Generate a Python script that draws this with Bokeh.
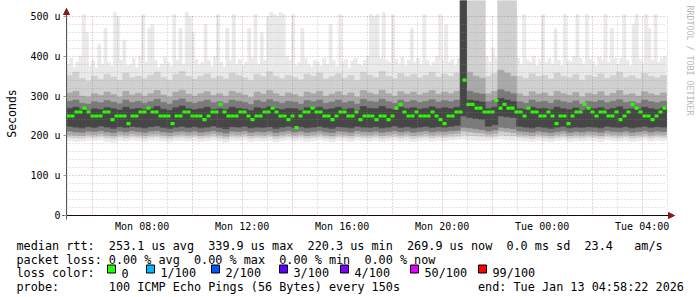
import math
from bokeh.plotting import figure
from bokeh.models import Range1d, FixedTicker, Label, Arrow, NormalHead, ColumnDataSource
from bokeh.embed import file_html
from bokeh.resources import INLINE
from bokeh.core.properties import value

# ---------------- data ----------------
# time in hours since Mon 00:00; graph ends Tue 04:58:22, spans 24 h
START_H = 4 + 58 / 60 + 22 / 3600
SPAN_H = 24.0

x_tick_hours = [8, 12, 16, 20, 24, 28]
x_tick_labels = ["Mon 08:00", "Mon 12:00", "Mon 16:00", "Mon 20:00", "Tue 00:00", "Tue 04:00"]
y_tick_values = [0, 100, 200, 300, 400, 500]
y_tick_labels = ["0", "100 u", "200 u", "300 u", "400 u", "500 u"]
y_title = "Seconds"

# smoke percentiles (microseconds), one value per 15 minutes
SMOKE_STEP_H = 0.25
rtt_min = [188, 186, 187, 189, 188, 190, 186, 184, 189, 187, 190, 188,
           186, 189, 190, 187, 185, 188, 189, 187, 189, 186, 188, 190,
           187, 184, 189, 188, 190, 186, 188, 187, 189, 185, 188, 190,
           187, 189, 186, 188, 190, 187, 185, 189, 188, 186, 190, 188,
           187, 189, 186, 188, 190, 187, 189, 186, 188, 190, 187, 189,
           188, 190, 191, 192, 190, 189, 188, 189, 191, 192, 190, 189,
           189, 188, 186, 189, 187, 185, 188, 190, 186, 188, 187, 189,
           188, 186, 190, 188, 187, 189, 186, 188, 190, 187, 189, 188]
rtt_p10 = [196, 195, 194, 197, 196, 198, 195, 193, 197, 195, 198, 196,
           194, 197, 198, 195, 193, 196, 197, 195, 197, 194, 196, 198,
           195, 192, 197, 196, 198, 194, 196, 195, 197, 193, 196, 198,
           195, 197, 194, 196, 198, 195, 193, 197, 196, 194, 198, 196,
           195, 197, 194, 196, 198, 195, 197, 194, 196, 198, 195, 197,
           196, 198, 199, 203, 201, 200, 199, 197, 199, 203, 201, 200,
           197, 196, 194, 197, 195, 193, 196, 198, 194, 196, 195, 197,
           196, 194, 198, 196, 195, 197, 194, 196, 198, 195, 197, 196]
rtt_p20 = [203, 202, 201, 204, 203, 205, 202, 200, 204, 202, 205, 203,
           201, 204, 205, 202, 200, 203, 204, 202, 204, 201, 203, 205,
           202, 199, 204, 203, 205, 201, 203, 202, 204, 200, 203, 205,
           202, 204, 201, 203, 205, 202, 200, 204, 203, 201, 205, 203,
           202, 204, 201, 203, 205, 202, 204, 201, 203, 205, 202, 204,
           203, 205, 206, 212, 210, 208, 207, 204, 206, 212, 210, 208,
           204, 203, 201, 204, 202, 200, 203, 205, 201, 203, 202, 204,
           203, 201, 205, 203, 202, 204, 201, 203, 205, 202, 204, 203]
rtt_p30 = [212, 210, 209, 212, 211, 213, 210, 208, 212, 210, 213, 211,
           209, 212, 213, 210, 208, 211, 212, 210, 212, 209, 211, 213,
           210, 207, 212, 211, 213, 209, 211, 210, 212, 208, 211, 213,
           210, 212, 209, 211, 213, 210, 208, 212, 211, 209, 213, 211,
           210, 212, 209, 211, 213, 210, 212, 209, 211, 213, 210, 212,
           211, 213, 214, 222, 220, 218, 216, 212, 215, 222, 220, 218,
           212, 211, 209, 212, 210, 208, 211, 213, 209, 211, 210, 212,
           211, 209, 213, 211, 210, 212, 209, 211, 213, 210, 212, 211]
rtt_p40 = [224, 222, 220, 223, 221, 225, 222, 219, 223, 221, 224, 222,
           220, 223, 225, 221, 219, 222, 224, 221, 223, 220, 222, 225,
           221, 218, 223, 222, 224, 220, 222, 221, 223, 219, 222, 224,
           221, 223, 220, 222, 224, 221, 219, 223, 222, 220, 224, 222,
           221, 223, 220, 222, 225, 221, 223, 220, 222, 224, 221, 223,
           222, 224, 226, 250, 246, 244, 242, 224, 228, 250, 248, 246,
           224, 222, 220, 223, 221, 219, 222, 224, 220, 222, 221, 223,
           222, 220, 224, 222, 221, 223, 220, 222, 224, 221, 223, 222]
rtt_p60 = [269, 272, 266, 264, 268, 266, 271, 268, 265, 272, 267, 269,
           266, 268, 274, 267, 264, 271, 275, 268, 266, 268, 272, 266,
           268, 266, 272, 269, 267, 263, 271, 268, 273, 268, 266, 269,
           268, 264, 271, 268, 272, 266, 268, 272, 266, 269, 264, 274,
           269, 268, 274, 268, 266, 272, 268, 271, 267, 269, 273, 268,
           271, 268, 272, 540, 290, 288, 285, 268, 272, 294, 290, 286,
           268, 266, 272, 268, 269, 266, 272, 268, 266, 270, 264, 269,
           268, 271, 266, 269, 273, 267, 268, 266, 272, 268, 266, 270]
rtt_p70 = [287, 290, 282, 280, 286, 283, 289, 285, 281, 290, 284, 287,
           282, 286, 292, 284, 280, 289, 293, 285, 282, 286, 290, 283,
           286, 282, 290, 287, 284, 279, 289, 285, 291, 286, 282, 287,
           285, 280, 289, 286, 290, 282, 285, 290, 283, 287, 280, 292,
           287, 285, 292, 286, 282, 290, 285, 289, 284, 287, 291, 285,
           289, 286, 290, 540, 312, 308, 305, 286, 290, 316, 311, 306,
           286, 282, 290, 285, 287, 282, 290, 286, 283, 288, 280, 287,
           285, 289, 283, 287, 291, 284, 286, 282, 290, 286, 283, 287]
rtt_p80 = [308, 312, 300, 298, 306, 302, 310, 304, 298, 312, 303, 307,
           300, 306, 314, 303, 298, 310, 315, 305, 300, 306, 311, 302,
           306, 300, 312, 308, 303, 297, 310, 305, 314, 306, 300, 308,
           304, 298, 310, 306, 312, 300, 305, 311, 302, 308, 298, 314,
           308, 304, 315, 306, 300, 311, 305, 310, 303, 308, 314, 305,
           310, 306, 312, 540, 360, 350, 345, 306, 312, 365, 358, 350,
           306, 300, 311, 305, 308, 300, 312, 306, 302, 309, 298, 307,
           304, 311, 301, 307, 314, 303, 306, 300, 311, 306, 302, 308]
rtt_p90 = [352, 360, 345, 338, 350, 342, 355, 348, 340, 358, 346, 350,
           344, 352, 360, 347, 340, 355, 362, 349, 343, 350, 356, 345,
           350, 343, 358, 352, 346, 340, 355, 349, 361, 350, 344, 352,
           347, 341, 355, 350, 358, 343, 349, 356, 345, 352, 340, 360,
           353, 347, 362, 350, 344, 357, 349, 355, 346, 352, 360, 348,
           355, 350, 358, 540, 540, 540, 540, 350, 356, 540, 540, 540,
           350, 344, 356, 349, 352, 343, 358, 350, 346, 354, 340, 352,
           348, 356, 345, 352, 360, 347, 351, 344, 357, 350, 346, 352]

# highest ping per 7.5 minutes
MAX_STEP_H = 0.125
rtt_max = [380, 395, 372, 385, 400, 505, 460, 375, 390, 370, 430, 380, 470, 385, 375, 510,
           500, 390, 440, 376, 380, 395, 372, 400, 505, 385, 470, 480, 390, 372, 380, 398,
           385, 375, 505, 390, 470, 380, 510, 500, 460, 392, 378, 385, 480, 390, 375, 400,
           505, 385, 372, 470, 390, 505, 380, 392, 376, 385, 470, 395, 505, 380, 460, 390,
           500, 510, 505, 500, 510, 505, 400, 390, 505, 378, 385, 470, 395, 380, 372, 390,
           385, 376, 395, 380, 480, 390, 375, 505, 385, 392, 370, 388, 395, 380, 376, 390,
           400, 505, 500, 505, 395, 510, 390, 385, 505, 392, 380, 398, 376, 390, 470, 385,
           395, 380, 505, 390, 376, 385, 400, 505, 390, 480, 385, 392, 378, 395, 540, 540,
           540, 540, 540, 540, 540, 540, 400, 385, 420, 395, 540, 540, 540, 540, 540, 540,
           395, 380, 505, 390, 385, 400, 376, 392, 505, 385, 395, 380, 470, 390, 376, 505,
           390, 385, 400, 505, 395, 380, 505, 392, 385, 376, 398, 390, 505, 385, 470, 395,
           380, 395, 505, 390, 376, 480, 505, 392, 385, 505, 470, 390, 505, 385, 395, 400]

# median rtt per 9.6 minutes (0 % loss throughout)
MEDIAN_STEP_H = 0.16
median_rtt = [250, 250, 260, 260, 270, 260, 250, 250, 250, 260,
              260, 241, 250, 250, 250, 231, 250, 250, 260, 260,
              270, 260, 260, 250, 250, 250, 231, 250, 250, 260,
              260, 250, 250, 250, 241, 250, 260, 260, 279, 260,
              250, 250, 250, 260, 260, 250, 241, 250, 250, 260,
              260, 270, 260, 250, 250, 241, 250, 221, 250, 260,
              260, 270, 260, 260, 250, 250, 241, 250, 260, 260,
              250, 250, 260, 241, 250, 250, 250, 241, 250, 250,
              241, 250, 270, 279, 260, 250, 250, 260, 250, 250,
              250, 260, 250, 241, 231, 250, 250, 260, 260, 340,
              279, 279, 270, 270, 260, 260, 260, 289, 270, 279,
              270, 270, 260, 260, 250, 270, 260, 260, 250, 250,
              260, 250, 231, 250, 250, 231, 250, 260, 260, 279,
              270, 260, 250, 260, 260, 250, 250, 260, 241, 250,
              260, 279, 270, 260, 250, 250, 241, 250, 260, 270]

loss_labels = ["0", "1/100", "2/100", "3/100", "4/100", "50/100", "99/100"]
loss_colors = ["#26ff00", "#00b8ff", "#0059ff", "#5e00ff", "#7e00ff", "#dd00ff", "#ff0000"]

# legend rows: (text, character column)
row_rtt = [("median rtt:", 0), ("253.1 us avg", 13), ("339.9 us max", 27), ("220.3 us min", 41),
           ("269.9 us now", 55), ("0.0 ms sd", 69), ("23.4", 80), ("am/s", 87)]
row_loss = [("packet loss:", 0), ("0.00 % avg", 13), ("0.00 % max", 25), ("0.00 % min", 37),
            ("0.00 % now", 49)]
row_probe = [("probe:", 0), ("100 ICMP Echo Pings (56 Bytes) every 150s", 13),
             ("end: Tue Jan 13 04:58:22 2026", 65)]

# ---------------- layout constants ----------------
W, H = 697, 297
PX_PER_H = 25.0
PX_PER_U = 199.0 / 500.0
LEFT = 66          # canvas x of the graph start
ZERO_Y = 215       # canvas y of 0 s
MONO = "DejaVu Sans Mono"
PITCH = 7.1
LEG_X = 16

p = figure(width=W, height=H,
           x_range=Range1d(START_H - LEFT / PX_PER_H, START_H + (W - LEFT) / PX_PER_H),
           y_range=Range1d(-(H - ZERO_Y) / PX_PER_U, ZERO_Y / PX_PER_U),
           output_backend="svg", toolbar_location=None,
           min_border_left=0, min_border_right=0, min_border_top=0, min_border_bottom=0)
p.outline_line_color = None
p.background_fill_color = "white"
p.border_fill_color = "white"


def dx(cx):
    # canvas pixel x -> data x
    return START_H + (cx - LEFT) / PX_PER_H


def dy(cy):
    # canvas pixel y -> data y
    return (ZERO_Y - cy) / PX_PER_U


# smoke layers
def layer(step, lo, hi, color):
    n = min(len(lo), len(hi))
    left = [START_H + i * step for i in range(n)]
    right = [START_H + (i + 1) * step for i in range(n)]
    src = ColumnDataSource(dict(left=left, right=right, bottom=lo[:n], top=hi[:n]))
    p.quad(left="left", right="right", bottom="bottom", top="top", source=src,
           fill_color=color, line_color=color, line_width=0.6)


min_fine = [rtt_min[j // 2] for j in range(len(rtt_max))]
layer(MAX_STEP_H, min_fine, rtt_max, "#eaeaea")
layer(SMOKE_STEP_H, rtt_p10, rtt_p90, "#d0d0d0")
layer(SMOKE_STEP_H, rtt_p20, rtt_p80, "#a9a9a9")
layer(SMOKE_STEP_H, rtt_p30, rtt_p70, "#7a7a7a")
layer(SMOKE_STEP_H, rtt_p40, rtt_p60, "#464646")

# median bars
half_bar = 1.6 / PX_PER_U
msrc = ColumnDataSource(dict(
    left=[START_H + i * MEDIAN_STEP_H for i in range(len(median_rtt))],
    right=[START_H + (i + 1) * MEDIAN_STEP_H for i in range(len(median_rtt))],
    bottom=[m - half_bar for m in median_rtt],
    top=[m + half_bar for m in median_rtt]))
p.quad(left="left", right="right", bottom="bottom", top="top", source=msrc,
       fill_color=loss_colors[0], line_color=None)

# axes (pinned at the graph origin so that the frame can hold the legend as well)
xa = p.xaxis[0]
xa.fixed_location = 0
xa.ticker = FixedTicker(ticks=x_tick_hours)
xa.major_label_overrides = {h: s for h, s in zip(x_tick_hours, x_tick_labels)}
xa.bounds = (START_H - 4 / PX_PER_H, START_H + 24.08)
xa.axis_line_color = "#000000"
xa.major_tick_out = 0
xa.major_tick_in = 0
xa.minor_tick_line_color = None
xa.major_label_standoff = 5
xa.major_label_text_font = MONO
xa.major_label_text_font_size = "10px"
xa.major_label_text_color = "#000000"

ya = p.yaxis[0]
ya.fixed_location = START_H
ya.ticker = FixedTicker(ticks=y_tick_values)
ya.major_label_overrides = {v: s for v, s in zip(y_tick_values, y_tick_labels)}
ya.bounds = (-4 / PX_PER_U, 520)
ya.axis_line_color = "#555555"
ya.major_tick_out = 3
ya.major_tick_in = 0
ya.major_tick_line_color = "#999999"
ya.minor_tick_line_color = None
ya.major_label_standoff = 3
ya.major_label_text_font = MONO
ya.major_label_text_font_size = "10px"
ya.major_label_text_color = "#000000"

# y axis title, rotated, left of the tick labels
p.add_layout(Label(x=dx(11), y=dy(113), text=y_title, angle=math.pi / 2,
                   text_font=MONO, text_font_size="11.5px", text_color="#000000",
                   text_align="center", text_baseline="middle"))

# grids
xg = p.xgrid[0]
xg.ticker = FixedTicker(ticks=list(range(6, 29, 2)), minor_ticks=list(range(5, 30, 2)))
yg = p.ygrid[0]
yg.ticker = FixedTicker(ticks=y_tick_values, minor_ticks=[v for v in range(20, 500, 20) if v % 100])
for g, cb in ((xg, (0, 500)), (yg, (START_H, START_H + SPAN_H))):
    g.level = "overlay"
    g.grid_line_color = "#b04040"
    g.grid_line_alpha = 0.45
    g.grid_line_dash = "1 2"
    g.minor_grid_line_color = "#8c8c8c"
    g.minor_grid_line_alpha = 0.45
    g.minor_grid_line_dash = "1 2"
    try:
        g.cross_bounds = cb
    except AttributeError:
        pass

# axis arrows
ARROW = "#8b1a1a"
p.add_layout(Arrow(end=NormalHead(size=6, fill_color=ARROW, line_color=ARROW),
                   x_start=START_H, y_start=505, x_end=START_H, y_end=520,
                   line_color="#555555", line_width=1))
p.add_layout(Arrow(end=NormalHead(size=6, fill_color=ARROW, line_color=ARROW),
                   x_start=START_H + 24.0, y_start=0, x_end=START_H + 24.32, y_end=0,
                   line_color="#000000", line_width=1))

# watermark
p.add_layout(Label(x=dx(689), y=dy(5),
                   text="RRDTOOL / TOBI OETIKER", angle=-math.pi / 2,
                   text_font=MONO, text_font_size="8.3px", text_color="#b8b8b8",
                   text_align="left", text_baseline="middle"))

# ---------------- legend block ----------------
tx, ty, tt = [], [], []
for tokens, base in ((row_rtt, 245), (row_loss, 259), (row_probe, 286.5)):
    for t, col in tokens:
        tx.append(dx(LEG_X + col * PITCH)); ty.append(dy(base)); tt.append(t)
tx.append(dx(LEG_X)); ty.append(dy(272.5)); tt.append("loss color:")
box_x = [107, 146, 211, 279, 340, 410, 478]
for bx, lab in zip(box_x, loss_labels):
    tx.append(dx(bx + 14)); ty.append(dy(272.5)); tt.append(lab)
p.text(x=tx, y=ty, text=tt, text_font=value(MONO), text_font_size=value("11.8px"),
       text_baseline="alphabetic", text_align="left", text_color="#000000")
p.quad(left=[dx(b) for b in box_x], right=[dx(b + 8) for b in box_x],
       top=[dy(264.5)] * len(box_x), bottom=[dy(272.5)] * len(box_x),
       fill_color=loss_colors, line_color="#000000", line_width=1)

open("out.html", "w").write(file_html(p, INLINE))
